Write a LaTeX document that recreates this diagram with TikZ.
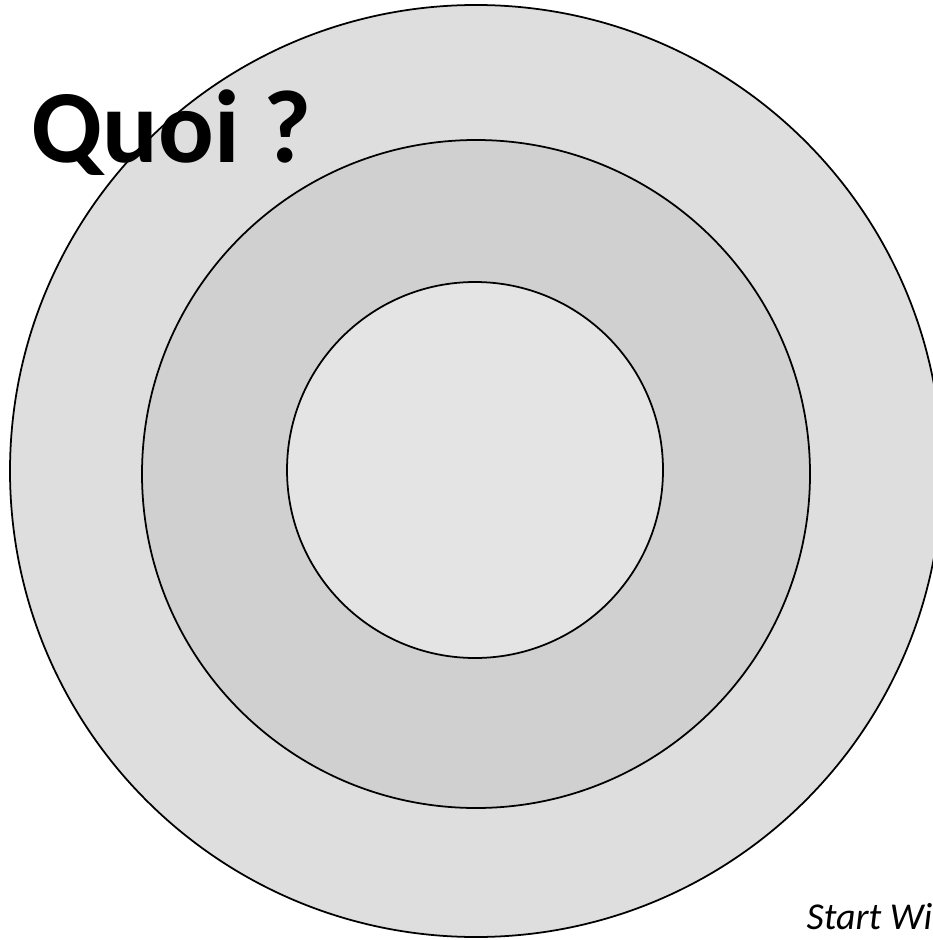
\documentclass[tikz,border=0pt]{standalone}
\usepackage{fontspec}
\setmainfont{Carlito}
\usepackage{tikz}
\usetikzlibrary{positioning}
\definecolor{ringOuter}{HTML}{DEDEDE}
\definecolor{ringMid}{HTML}{D0D0D0}
\definecolor{ringInner}{HTML}{E4E4E4}

\tikzset{
    ring/.style={draw=black, line width=0.5pt},
    title/.style={font=\fontsize{29.5}{34}\selectfont\bfseries, anchor=base west, inner sep=0pt},
    note/.style={font=\fontsize{10.8}{13}\selectfont\itshape, anchor=base west, inner sep=0pt}
}

\begin{document}
\begin{tikzpicture}[x=0.01cm, y=-0.01cm]
    \useasboundingbox (0,0) rectangle (932,940);

    % Rings
    \fill[white] (0,0) rectangle (932,940);
    \draw[ring, fill=ringOuter] (476,471) circle (466);
    \draw[ring, fill=ringMid] (476,474) circle (334);
    \draw[ring, fill=ringInner] (475,470) circle (188);

    % Labels
    \node[title] (quoi) at (31,163) {Quoi ?};
    \node[note] (start) at (806,929) {Start Wi};
\end{tikzpicture}
\end{document}
